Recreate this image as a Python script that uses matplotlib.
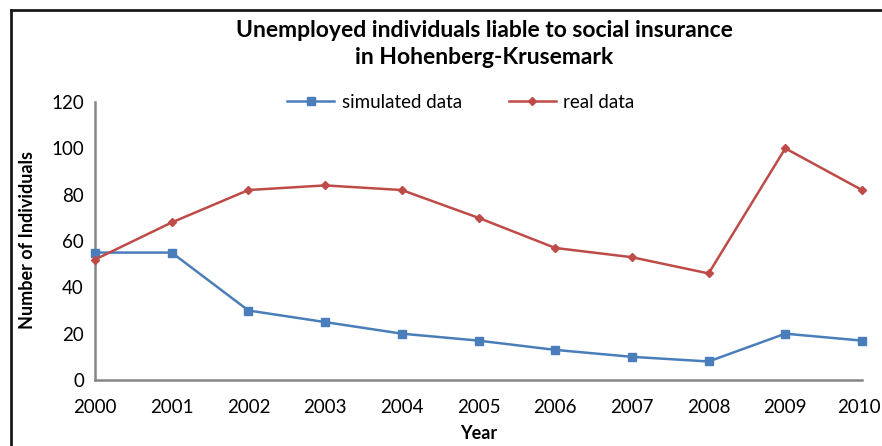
import matplotlib
matplotlib.use("Agg")
import matplotlib.pyplot as plt
import matplotlib.transforms as mtransforms
from matplotlib.lines import Line2D

years = [2000, 2001, 2002, 2003, 2004, 2005, 2006, 2007, 2008, 2009, 2010]
simulated = [55, 55, 30, 25, 20, 17, 13, 10, 8, 20, 17]
real = [52, 68, 82, 84, 82, 70, 57, 53, 46, 100, 82]

plt.rcParams["font.family"] = ["Lato", "DejaVu Sans"]

W, H = 882, 446
fig = plt.figure(figsize=(W / 100, H / 100), dpi=100)
ax = fig.add_axes([95 / W, 1 - 380 / H, (862 - 95) / W, (380 - 102) / H])

blue = "#4A7EBB"
red = "#BE4B48"
ax.plot(years, simulated, color=blue, lw=1.8, marker="s", ms=6, label="simulated data",
        clip_on=False, zorder=3)
ax.plot(years, real, color=red, lw=1.8, marker="D", ms=4.5, label="real data",
        clip_on=False, zorder=3)

ax.set_xlim(2000, 2010)
ax.set_ylim(0, 120)
ax.set_yticks(range(0, 121, 20))
ax.set_xticks(years)
ax.tick_params(length=0, labelsize=13.5, colors="#000000", pad=8)
ax.tick_params(axis="x", pad=14)
for s in ["top", "right"]:
    ax.spines[s].set_visible(False)
for s in ["left", "bottom"]:
    ax.spines[s].set_color("#868686")
    ax.spines[s].set_linewidth(1.8)

# keep the last year label inside the figure
last = ax.get_xticklabels()[-1]
last.set_transform(last.get_transform() + mtransforms.ScaledTranslation(-3 / 100, 0, fig.dpi_scale_trans))

ax.set_xlabel("Year", fontsize=13, fontweight="bold", labelpad=6)
fig.text(28 / W, 1 - 240 / H, "Number of Individuals", rotation=90, fontsize=13,
         fontweight="bold", ha="center", va="center")

fig.text(484 / W, 1 - 44 / H,
         "Unemployed individuals liable to social insurance\nin Hohenberg-Krusemark",
         fontsize=16.5, fontweight="bold", ha="center", va="center", linespacing=1.3)

ax.legend(loc="center", bbox_to_anchor=(461 / W, 1 - 102 / H), bbox_transform=fig.transFigure,
          ncol=2, frameon=False, fontsize=13.5, handlelength=2.5, columnspacing=2.5,
          handletextpad=0.4)

# chart border (only top and left edges visible in the crop)
fig.add_artist(Line2D([11 / W, 1], [1 - 10 / H, 1 - 10 / H], transform=fig.transFigure,
                      color="#1a1a1a", lw=2))
fig.add_artist(Line2D([11 / W, 11 / W], [0, 1 - 10 / H], transform=fig.transFigure,
                      color="#1a1a1a", lw=2))

fig.savefig("out.png", dpi=100)
